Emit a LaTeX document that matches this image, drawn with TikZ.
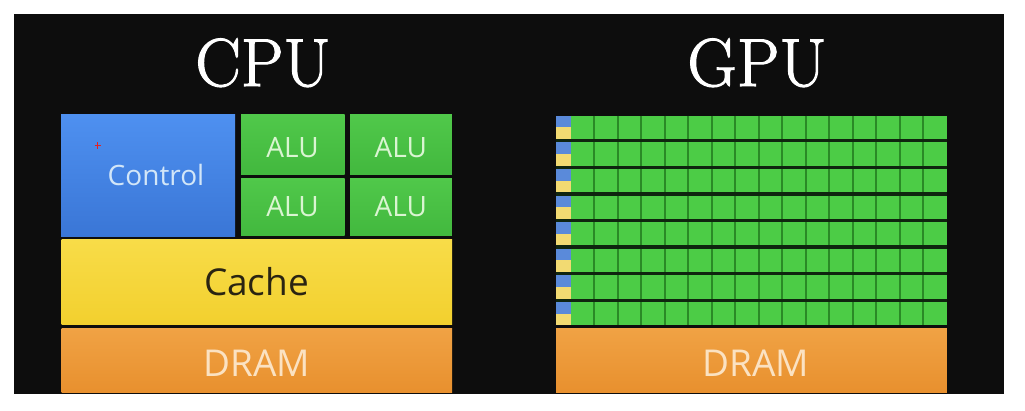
\documentclass[tikz,border=0pt]{standalone}
\usepackage{fontspec}
\setsansfont{Open Sans}
\newfontfamily\ttlfont{Latin Modern Roman}[FakeBold=1.6]
\definecolor{bgdark}{HTML}{0D0D0D}
\definecolor{ctrltop}{HTML}{4E90F0}
\definecolor{ctrlbot}{HTML}{3A76D6}
\definecolor{alutop}{HTML}{50C84A}
\definecolor{alubot}{HTML}{42B83E}
\definecolor{cachetop}{HTML}{F8DC48}
\definecolor{cachebot}{HTML}{F2D02E}
\definecolor{dramtop}{HTML}{F0A244}
\definecolor{drambot}{HTML}{E8902E}
\definecolor{gpugreen}{HTML}{4CCC46}
\definecolor{cellline}{HTML}{2A8A26}
\definecolor{rowgap}{HTML}{0F250F}
\definecolor{gpublue}{HTML}{5A8ADA}
\definecolor{gpuyellow}{HTML}{F2DA72}
\definecolor{ctrltext}{HTML}{D2E6F8}
\definecolor{alutext}{HTML}{DAF5D2}
\definecolor{cachetext}{HTML}{2A2412}
\definecolor{dramtext}{HTML}{FBE2C2}
\definecolor{markred}{HTML}{E82020}
\begin{document}
\begin{tikzpicture}[x=1pt,y=-1pt,
  blk/.style={rectangle, draw=none, inner sep=0pt, outer sep=0pt},
  lbl/.style={font=\sffamily\fontsize{28}{28}\selectfont, anchor=base, inner sep=0pt},
  biglbl/.style={font=\sffamily\fontsize{37}{37}\selectfont, anchor=base, inner sep=0pt},
  ttl/.style={font=\ttlfont\fontsize{68}{68}\selectfont, text=white, anchor=base, inner sep=0pt},
  alubox/.style={blk, top color=alutop, bottom color=alubot},
  dramstyle/.style={blk, top color=dramtop, bottom color=drambot, minimum width=390.5pt, minimum height=63.5pt}]
\useasboundingbox (0,0) rectangle (1025,411);
\fill[white] (0,0) rectangle (1025,411);
\fill[bgdark] (14,14) rectangle (1004,394);
% titles
\node[ttl] (cputitle) at (263,86) {CPU};
\node[ttl] (gputitle) at (757,86) {GPU};
% CPU
\node[blk, top color=ctrltop, bottom color=ctrlbot, minimum width=174pt, minimum height=121.5pt] (control) at (148,175.75) {};
\node[lbl, text=ctrltext] (controltext) at (156,185.5) {Control};
\draw[markred, line width=1.1pt] (94.5,145.7) -- (100.9,145.7) (97.7,142.5) -- (97.7,148.9);
\node[alubox, minimum width=103.5pt, minimum height=60pt] (alu1) at (292.75,145) {};
\node[alubox, minimum width=101.75pt, minimum height=60pt] (alu2) at (400.9,145) {};
\node[alubox, minimum width=103.5pt, minimum height=57.5pt] (alu3) at (292.75,207.25) {};
\node[alubox, minimum width=101.75pt, minimum height=57.5pt] (alu4) at (400.9,207.25) {};
\node[lbl, text=alutext] (alu1text) at (292.5,157.3) {ALU};
\node[lbl, text=alutext] (alu2text) at (400.9,157.3) {ALU};
\node[lbl, text=alutext] (alu3text) at (292.5,216.5) {ALU};
\node[lbl, text=alutext] (alu4text) at (400.9,216.5) {ALU};
\node[blk, top color=cachetop, bottom color=cachebot, minimum width=390.5pt, minimum height=85pt] (cache) at (256.75,282.5) {};
\node[biglbl, text=cachetext] (cachetext) at (256.5,295.3) {Cache};
\node[dramstyle] (cpudram) at (256.75,360.75) {};
\node[biglbl, text=dramtext] (cpudramtext) at (257,376.3) {DRAM};
% GPU
\node[blk, fill=rowgap, minimum width=390.75pt, minimum height=209.4pt] (grid) at (751.4,220.4) {};
\foreach \i in {0,...,7}{
  \pgfmathsetmacro{\t}{115.7+26.63*\i}
  \fill[gpublue] (556,\t) rectangle (570.7,\t+11.6);
  \fill[gpuyellow] (556,\t+11.6) rectangle (570.7,\t+23.2);
  \fill[gpugreen] (570.7,\t) rectangle (946.75,\t+23.2);
  \foreach \j in {1,...,15}{
    \draw[cellline, line width=1.6pt] (570.7+23.5*\j,\t) -- ++(0,23.2);
  }
}
\node[dramstyle, minimum width=390.75pt] (gpudram) at (751.4,360.75) {};
\node[biglbl, text=dramtext] (gpudramtext) at (756,376.3) {DRAM};
\end{tikzpicture}
\end{document}
